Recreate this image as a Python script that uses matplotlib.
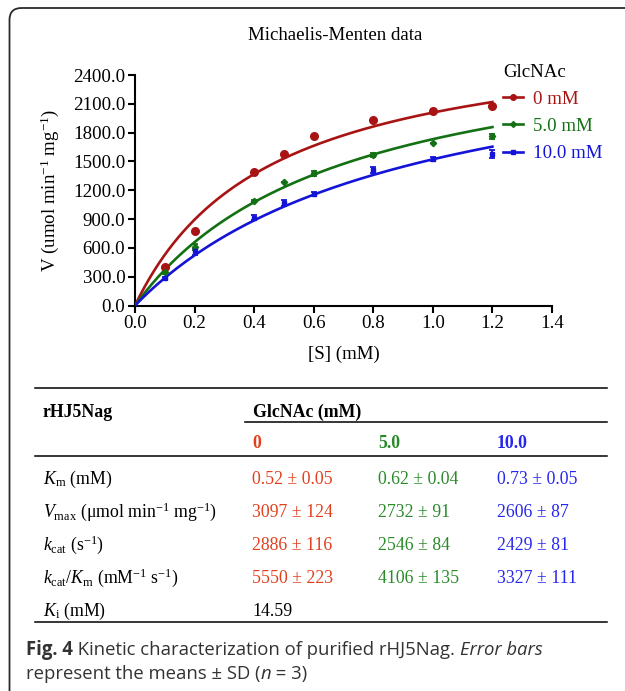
import numpy as np
import matplotlib
matplotlib.use("Agg")
import matplotlib.pyplot as plt
from matplotlib.lines import Line2D
from matplotlib.patches import FancyBboxPatch

# ---------------- data ----------------
substrate_mM = [0.1, 0.2, 0.4, 0.5, 0.6, 0.8, 1.0, 1.2]
glcnac_mM = [0.0, 5.0, 10.0]
v_0mM = [400, 780, 1385, 1580, 1770, 1930, 2020, 2075]
sd_0mM = [0, 0, 15, 0, 0, 15, 30, 15]
v_5mM = [345, 610, 1090, 1285, 1375, 1570, 1690, 1760]
sd_5mM = [20, 30, 10, 0, 30, 20, 0, 25]
v_10mM = [285, 565, 915, 1070, 1160, 1410, 1525, 1580]
sd_10mM = [10, 35, 25, 30, 25, 30, 20, 40]
series_labels = ["0 mM", "5.0 mM", "10.0 mM"]
legend_title = "GlcNAc"
x_ticks = [0.0, 0.2, 0.4, 0.6, 0.8, 1.0, 1.2, 1.4]
y_ticks = [0, 300, 600, 900, 1200, 1500, 1800, 2100, 2400]
chart_title = "Michaelis-Menten data"
x_label = "[S] (mM)"
y_label = r"V (umol min$^{-1}$ mg$^{-1}$)"

table_corner = "rHJ5Nag"
table_group = "GlcNAc (mM)"
table_cols = ["0", "5.0", "10.0"]
table_row_labels = [r"$K_{\mathrm{m}}$ (mM)",
                    r"$V_{\mathrm{max}}$ (μmol min$^{-1}$ mg$^{-1}$)",
                    r"$k_{\mathrm{cat}}$ (s$^{-1}$)",
                    r"$k_{\mathrm{cat}}/K_{\mathrm{m}}$ (mM$^{-1}$ s$^{-1}$)",
                    r"$K_{\mathrm{i}}$ (mM)"]
table_col_0 = ["0.52 ± 0.05", "3097 ± 124", "2886 ± 116", "5550 ± 223", "14.59"]
table_col_5 = ["0.62 ± 0.04", "2732 ± 91", "2546 ± 84", "4106 ± 135", ""]
table_col_10 = ["0.73 ± 0.05", "2606 ± 87", "2429 ± 81", "3327 ± 111", ""]

caption_parts = [("Fig. 4", "bold", "normal"),
                 (" Kinetic characterization of purified rHJ5Nag. ", "normal", "normal"),
                 ("Error bars", "normal", "italic")]
caption_parts2 = [("represent the means ± SD (", "normal", "normal"),
                  ("n", "normal", "italic"),
                  (" = 3)", "normal", "normal")]

# ---------------- style ----------------
plt.rcParams["font.family"] = ["Liberation Serif", "DejaVu Serif"]
plt.rcParams["mathtext.fontset"] = "custom"
plt.rcParams["mathtext.rm"] = "Liberation Serif"
plt.rcParams["mathtext.it"] = "Liberation Serif:italic"
plt.rcParams["mathtext.bf"] = "Liberation Serif:bold"

cap_font = ["Open Sans", "Noto Sans", "DejaVu Sans"]

series_colors = ["#a81414", "#137013", "#1414d8"]
table_colors = ["#e0401e", "#2a8a2a", "#2626ee"]
markers = ["o", "D", "s"]
msizes = [5.5, 3.2, 3]

W, H = 625, 691
fig = plt.figure(figsize=(W / 100, H / 100), dpi=100)

# overlay in pixel coordinates
ov = fig.add_axes([0, 0, 1, 1])
ov.set_xlim(0, W)
ov.set_ylim(H, 0)
ov.axis("off")
ov.patch.set_alpha(0)

ov.add_patch(FancyBboxPatch((9.5, 8), 640, 700, boxstyle="round,pad=0,rounding_size=12",
                            fill=False, ec="#2a2a2a", lw=1.3))

# ---------------- chart ----------------
ax_l, ax_r, ax_t, ax_b = 135, 552, 75, 305.5
ax = fig.add_axes([ax_l / W, 1 - ax_b / H, (ax_r - ax_l) / W, (ax_b - ax_t) / H])
ax.patch.set_alpha(0)

# global competitive-inhibition fit of all three series
S = np.array(substrate_mM, float)
Vall = np.array([v_0mM, v_5mM, v_10mM], float)
Iarr = np.array(glcnac_mM, float)
km_g = np.linspace(0.2, 1.2, 401)[:, None, None, None]
ki_g = np.linspace(2.0, 40.0, 761)[None, :, None, None]
F = S[None, None, None, :] / (km_g * (1 + Iarr[None, None, :, None] / ki_g) + S[None, None, None, :])
fv = (F * Vall[None, None]).sum(axis=(2, 3))
ff = (F * F).sum(axis=(2, 3))
sse = (Vall ** 2).sum() - fv ** 2 / ff
i, j = np.unravel_index(np.argmin(sse), sse.shape)
Km_fit = km_g[i, 0, 0, 0]
Ki_fit = ki_g[0, j, 0, 0]
Vm_fit = fv[i, j] / ff[i, j]

s_fit = np.linspace(0, max(substrate_mM), 300)
handles = []
for vals, sds, inh, col, mk, ms in zip([v_0mM, v_5mM, v_10mM], [sd_0mM, sd_5mM, sd_10mM],
                                       glcnac_mM, series_colors, markers, msizes):
    kapp = Km_fit * (1 + inh / Ki_fit)
    ax.plot(s_fit, Vm_fit * s_fit / (kapp + s_fit), color=col, lw=1.9, zorder=3)
    ax.errorbar(substrate_mM, vals, yerr=sds, fmt=mk, color=col, ms=ms, capsize=2.2,
                elinewidth=1.3, capthick=1.3, zorder=4)
    handles.append(Line2D([], [], color=col, lw=1.9, marker=mk, ms=max(ms - 1.5, 3)))

ax.set_xlim(0, 1.4)
ax.set_ylim(0, 2400)
ax.set_xticks(x_ticks)
ax.set_xticklabels([f"{v:.1f}" for v in x_ticks])
ax.set_yticks(y_ticks)
ax.set_yticklabels([f"{v:.1f}" for v in y_ticks])
for s in ["top", "right"]:
    ax.spines[s].set_visible(False)
for s in ["left", "bottom"]:
    ax.spines[s].set_linewidth(1.5)
ax.tick_params(direction="out", length=5, width=1.5, labelsize=13.6, pad=2)
ax.set_xlabel(x_label, fontsize=13.6)
ax.set_ylabel(y_label, fontsize=13.6)
ax.xaxis.set_label_coords(0.5, -(346 - ax_b) / (ax_b - ax_t))
ax.yaxis.set_label_coords(-(ax_l - 61) / (ax_r - ax_l), 0.5)

ov.text(335, 35, chart_title, fontsize=13.6, ha="center", va="center")

leg = ax.legend(handles, series_labels, title=legend_title, loc="upper left",
                bbox_to_anchor=(503 / W, 1 - 64 / H), bbox_transform=fig.transFigure,
                frameon=False, borderpad=0, borderaxespad=0, handlelength=1.05,
                handletextpad=0.55, labelspacing=0.52, alignment="left",
                prop={"size": 13.6}, title_fontproperties={"size": 13.6},
                labelcolor="linecolor")

# ---------------- table ----------------
fs_t = 12.8
lx0, lx1 = 35, 607
for y in [388.3, 456.3, 622.3]:
    ov.plot([lx0, lx1], [y, y], color="black", lw=1.1)
ov.plot([245, lx1], [422.3, 422.3], color="black", lw=1.1)

ov.text(43, 416.7, table_corner, fontsize=fs_t, fontweight="bold", va="baseline")
ov.text(253, 416.7, table_group, fontsize=fs_t, fontweight="bold", va="baseline")
col_x = [252, 378, 497]
for cx, lab, c in zip(col_x, table_cols, table_colors):
    ov.text(cx, 448.3, lab, fontsize=fs_t, fontweight="bold", color=c, va="baseline")

row_base = [484, 517, 550, 583, 616]
for r, (rl, yb) in enumerate(zip(table_row_labels, row_base)):
    ov.text(43, yb, rl, fontsize=fs_t, va="baseline")
    for cx, colvals, c in zip(col_x, [table_col_0, table_col_5, table_col_10], table_colors):
        if colvals[r]:
            cc = c if r < 4 else "black"
            ov.text(cx, yb, colvals[r], fontsize=fs_t, color=cc, va="baseline")

# ---------------- caption ----------------
renderer = fig.canvas.get_renderer()

def draw_parts(parts, x, yb, size):
    arts = []
    for txt, wt, st in parts:
        t = ov.text(x, yb, txt, fontsize=size, family=cap_font,
                    fontweight=wt, fontstyle=st, color="#333333", va="baseline")
        x += t.get_window_extent(renderer).width
        arts.append(t)
    return x, arts

cap_size = 13.0
x_end, arts = draw_parts(caption_parts, 26, 655, cap_size)
for a in arts:
    a.remove()
cap_size = cap_size * (542 - 26) / (x_end - 26)
draw_parts(caption_parts, 26, 655, cap_size)
draw_parts(caption_parts2, 26, 679, cap_size)

fig.savefig("out.png", dpi=100)
